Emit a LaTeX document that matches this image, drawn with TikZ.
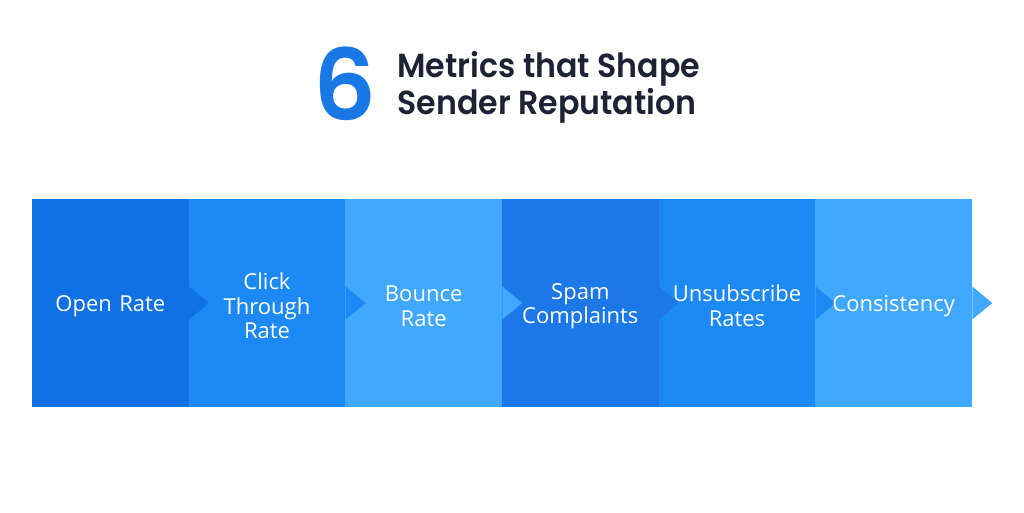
\documentclass[tikz,border=0pt]{standalone}
\usepackage{fontspec}
\setmainfont{Open Sans}
\newfontfamily\popfont{Poppins}[UprightFont=* SemiBold]
\usetikzlibrary{calc}
\definecolor{cA}{HTML}{1071E5}
\definecolor{cB}{HTML}{1C89F5}
\definecolor{cC}{HTML}{40A8FE}
\definecolor{cD}{HTML}{1B78E6}
\definecolor{navy}{HTML}{1E2235}
\definecolor{sixblue}{HTML}{1A78E5}
\tikzset{
  stepbox/.style={minimum width=156.67*0.75pt, minimum height=208*0.75pt, inner sep=0pt,
    text=white, align=center, font=\fontsize{16.5}{18.4}\selectfont, text width=150*0.75pt},
  titletext/.style={anchor=base west, inner sep=0pt, text=navy, align=left, font=\popfont\fontsize{25}{27.75}\selectfont},
}
\newcommand{\tipof}[2]{\fill[#2] ($(#1.east)+(0,-16.5)$) -- ($(#1.east)+(20,0)$) -- ($(#1.east)+(0,16.5)$) -- cycle;}
\begin{document}
\begin{tikzpicture}[x=0.75pt,y=-0.75pt]
\useasboundingbox[fill=white] (0,0) rectangle (1024,512);
\node[anchor=base west, inner sep=0pt, text=sixblue, font=\popfont\fontsize{74}{74}\selectfont] (six) at (313,120) {6};
\node[titletext] (title) at (397,114) {\scalebox{0.95}[1]{Metrics that Shape}\\\scalebox{0.95}[1]{Sender Reputation}};
\node[stepbox, fill=cA] (b1) at (110.33,303) {};
\node[stepbox, fill=cB] (b2) at (267.0,303) {};
\node[stepbox, fill=cC] (b3) at (423.67,303) {};
\node[stepbox, fill=cD] (b4) at (580.33,303) {};
\node[stepbox, fill=cB] (b5) at (737.0,303) {};
\node[stepbox, fill=cC] (b6) at (893.67,303) {};
\tipof{b1}{cA}
\tipof{b2}{cB}
\tipof{b3}{cC}
\tipof{b4}{cD}
\tipof{b5}{cB}
\tipof{b6}{cC}
\node[stepbox] (l1) at (110.33,306) {Open Rate};
\node[stepbox] (l2) at (267.0,306) {Click\\Through\\Rate};
\node[stepbox] (l3) at (423.67,306) {Bounce\\Rate};
\node[stepbox] (l4) at (580.33,306) {Spam\\Complaints};
\node[stepbox] (l5) at (737.0,306) {Unsubscribe\\Rates};
\node[stepbox] (l6) at (893.67,306) {Consistency};
\end{tikzpicture}
\end{document}
